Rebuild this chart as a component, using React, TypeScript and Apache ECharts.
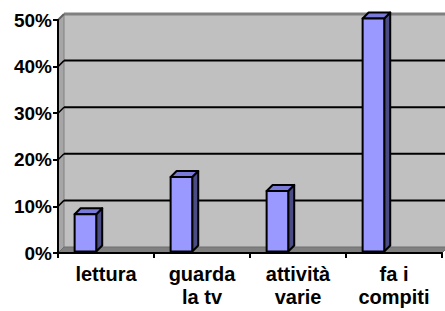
import React, { useEffect, useRef } from "react";
import * as echarts from "echarts";

const categories = ["lettura", "guarda\nla tv", "attività\nvarie", "fa i\ncompiti"];
const values = [0.08, 0.16, 0.13, 0.5];
const yTicks = [0, 0.1, 0.2, 0.3, 0.4, 0.5];

const DEPTH = 6;

export default function App() {
  const ref = useRef<HTMLDivElement>(null);
  useEffect(() => {
    if (!ref.current) return;
    const chart = echarts.init(ref.current, undefined, { renderer: "svg" });
    const font = "'Liberation Sans', Arial, sans-serif";
    const option: any = {
      animation: false,
      backgroundColor: "#ffffff",
      grid: { left: 58, right: 3, top: 20, bottom: 58, show: false },
      xAxis: {
        type: "category",
        data: categories,
        z: 10,
        axisLine: { show: true, lineStyle: { color: "#000", width: 2 } },
        axisTick: { show: true, length: 5, interval: 0, lineStyle: { color: "#000", width: 2 } },
        axisLabel: {
          interval: 0,
          color: "#000",
          fontFamily: font,
          fontWeight: "bold",
          fontSize: 20,
          lineHeight: 23,
          margin: 9,
        },
        splitLine: { show: false },
      },
      yAxis: {
        type: "value",
        min: 0,
        max: 0.5,
        interval: 0.1,
        z: 10,
        axisLine: { show: true, lineStyle: { color: "#000", width: 2 } },
        axisTick: { show: true, length: 5, lineStyle: { color: "#000", width: 2 } },
        axisLabel: {
          color: "#000",
          fontFamily: font,
          fontWeight: "bold",
          fontSize: 19,
          margin: 6,
          formatter: (v: number) => Math.round(v * 100) + "%",
        },
        splitLine: { show: false },
      },
      series: [
        {
          type: "custom",
          name: "frame",
          z: 1,
          silent: true,
          data: [[0, 0]],
          renderItem: (params: any, api: any) => {
            const cs = params.coordSys;
            const x0 = cs.x;
            const x1 = cs.x + cs.width;
            const yb = api.coord([0, 0])[1];
            const yt = api.coord([0, yTicks[yTicks.length - 1]])[1];
            const d = DEPTH;
            const children: any[] = [];
            // back wall
            children.push({
              type: "rect",
              shape: { x: x0 + d, y: yt - d, width: x1 - x0, height: yb - yt },
              style: { fill: "#C0C0C0", stroke: "none" },
            });
            // left side wall
            children.push({
              type: "polygon",
              shape: { points: [[x0, yt], [x0 + d, yt - d], [x0 + d, yb - d], [x0, yb]] },
              style: { fill: "#A6A6A6", stroke: "#808080", lineWidth: 1 },
            });
            // floor
            children.push({
              type: "polygon",
              shape: { points: [[x0, yb], [x0 + d, yb - d], [x1 + d, yb - d], [x1, yb]] },
              style: { fill: "#808080", stroke: "#6E6E6E", lineWidth: 1 },
            });
            // gridlines
            yTicks.forEach((t, i) => {
              if (i === 0 || i === yTicks.length - 1) return;
              const y = api.coord([0, t])[1];
              children.push({
                type: "line",
                shape: { x1: x0 + d, y1: y - d, x2: x1 + d, y2: y - d },
                style: { stroke: "#000", lineWidth: 2 },
              });
              children.push({
                type: "line",
                shape: { x1: x0, y1: y, x2: x0 + d, y2: y - d },
                style: { stroke: "#000", lineWidth: 1.5 },
              });
            });
            // top edge
            children.push({
              type: "line",
              shape: { x1: x0 + d, y1: yt - d, x2: x1 + d, y2: yt - d },
              style: { stroke: "#808080", lineWidth: 3 },
            });
            children.push({
              type: "line",
              shape: { x1: x0, y1: yt, x2: x0 + d, y2: yt - d },
              style: { stroke: "#606060", lineWidth: 2 },
            });
            return { type: "group", children };
          },
        },
        {
          type: "custom",
          name: "bars",
          z: 5,
          data: values.map((v, i) => [i, v]),
          encode: { x: 0, y: 1 },
          renderItem: (params: any, api: any) => {
            const i = api.value(0);
            const v = api.value(1);
            const top = api.coord([i, v]);
            const base = api.coord([i, 0]);
            const bw = api.size([1, 0])[0];
            const w = bw * 0.225;
            const off = 1.5;
            const cx = top[0] - bw * 0.23 + off;
            const xl = cx - w / 2;
            const xr = cx + w / 2;
            const yt = top[1] - off;
            const yb = base[1] - off;
            const d = 6;
            const st = { stroke: "#000", lineWidth: 2, lineJoin: "round" };
            return {
              type: "group",
              children: [
                {
                  type: "polygon",
                  shape: { points: [[xr, yt], [xr + d, yt - d], [xr + d, yb - d], [xr, yb]] },
                  style: { fill: "#4C4C85", ...st },
                },
                {
                  type: "polygon",
                  shape: { points: [[xl, yt], [xl + d, yt - d], [xr + d, yt - d], [xr, yt]] },
                  style: { fill: "#7A7AD8", ...st },
                },
                {
                  type: "rect",
                  shape: { x: xl, y: yt, width: w, height: yb - yt },
                  style: { fill: "#9999FF", ...st },
                },
              ],
            };
          },
        },
      ],
    };
    chart.setOption(option);
    return () => chart.dispose();
  }, []);
  return <div ref={ref} style={{ width: 445, height: 311, position: "absolute", left: 0, top: 0 }} />;
}
